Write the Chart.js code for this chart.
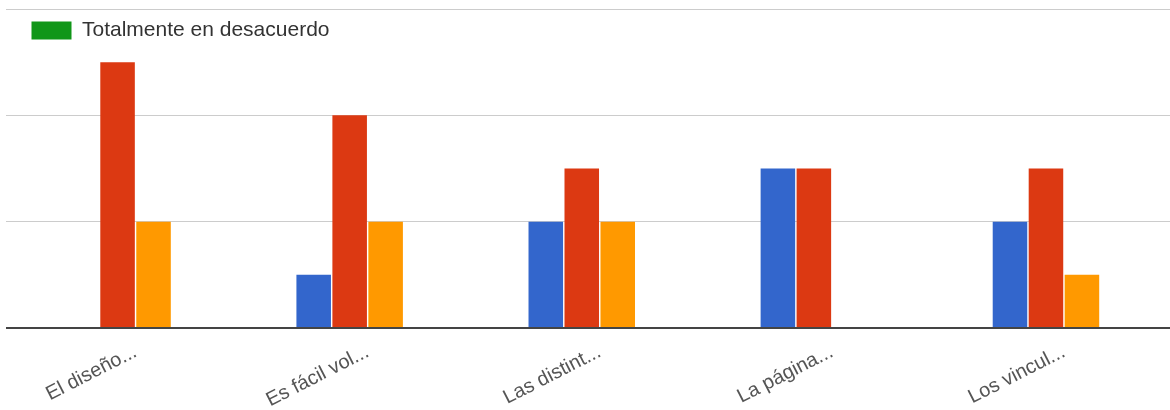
<!DOCTYPE html>
<html>
<head>
<meta charset="utf-8">
<script src="https://cdn.jsdelivr.net/npm/chart.js@4.4.0/dist/chart.umd.min.js"></script>
<style>
  html, body { margin: 0; padding: 0; background: #fff; overflow: hidden; }
  #wrap { position: relative; width: 1180px; height: 410px; }
</style>
</head>
<body>
<div id="wrap"><canvas id="chart"></canvas></div>
<script>
// ── Data ────────────────────────────────────────────
const categories = ['El diseño...', 'Es fácil vol...', 'Las distint...', 'La página...', 'Los vincul...'];
const seriesNames = ['Totalmente de acuerdo', 'De acuerdo', 'En desacuerdo', 'Totalmente en desacuerdo'];
const seriesColors = ['#3366cc', '#dc3912', '#ff9900', '#109618'];
const valuesTotAcuerdo = [0, 1, 2, 3, 2];
const valuesAcuerdo = [5, 4, 3, 3, 3];
const valuesDesacuerdo = [2, 2, 2, 0, 1];
const valuesTotDesacuerdo = [0, 0, 0, 0, 0];
const yTicks = [0, 2, 4, 6];

const seriesValues = [valuesTotAcuerdo, valuesAcuerdo, valuesDesacuerdo, valuesTotDesacuerdo];

const datasets = seriesNames.map((name, i) => ({
  label: name,
  data: seriesValues[i],
  backgroundColor: seriesColors[i],
  borderWidth: 0,
  categoryPercentage: 0.62,
  barPercentage: 0.96,
}));

// zero line darker, like the Google baseline
const gridColor = (ctx) => (ctx.tick && ctx.tick.value === 0 ? '#444' : '#cccccc');
const gridWidth = (ctx) => (ctx.tick && ctx.tick.value === 0 ? 2 : 1);

const labelFont = { family: "'Liberation Sans', Arial, sans-serif", size: 20 };

new Chart(document.getElementById('chart'), {
  type: 'bar',
  data: { labels: categories, datasets },
  options: {
    responsive: true,
    maintainAspectRatio: false,
    animation: false,
    layout: { padding: { left: 6, top: 9, right: 0, bottom: 0 } },
    scales: {
      x: {
        grid: { display: false },
        border: { display: false },
        ticks: {
          color: '#555',
          font: labelFont,
          minRotation: 27,
          maxRotation: 27,
          autoSkip: false,
          padding: 4,
        },
        afterFit: (scale) => { scale.height = 82; },
      },
      y: {
        min: 0,
        max: 6,
        afterBuildTicks: (scale) => { scale.ticks = yTicks.map(v => ({ value: v })); },
        ticks: { display: false },
        border: { display: false },
        grid: {
          color: gridColor,
          lineWidth: gridWidth,
          drawTicks: true,
          tickLength: 13.5,
        },
        afterFit: (scale) => { scale.width = 13.5; },
      },
    },
    plugins: {
      legend: {
        position: 'chartArea',
        align: 'start',
        title: { display: true, text: '', font: { size: 5 }, padding: { top: 2, bottom: 0 } },
        labels: {
          filter: (item) => item.datasetIndex === 3,
          boxWidth: 40,
          boxHeight: 18,
          padding: 12,
          color: '#333',
          font: { family: "'Liberation Sans', Arial, sans-serif", size: 21 },
        },
      },
      tooltip: { enabled: false },
    },
  },
});
</script>
</body>
</html>
